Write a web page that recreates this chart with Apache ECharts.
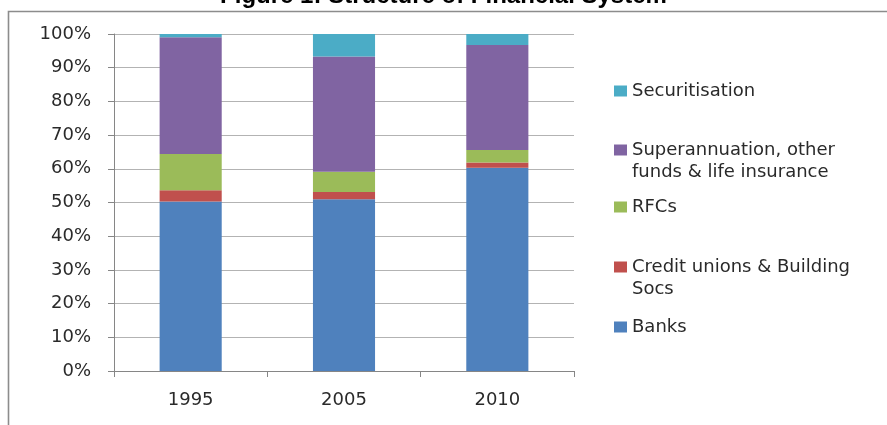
<!DOCTYPE html>
<html>
<head>
<meta charset="utf-8">
<script src="https://cdn.jsdelivr.net/npm/echarts@6/dist/echarts.min.js"></script>
<style>
html,body{margin:0;padding:0;background:#fff;}
#chart{width:887px;height:425px;}
</style>
</head>
<body>
<div id="chart"></div>
<script>
const categories = ['1995', '2005', '2010'];
const banks = [50.3, 51.0, 60.3];
const creditUnions = [3.3, 2.1, 1.6];
const rfcs = [10.8, 6.0, 3.7];
const superannuation = [34.6, 34.2, 31.1];
const securitisation = [1.0, 6.7, 3.3];
const yTicks = [0, 10, 20, 30, 40, 50, 60, 70, 80, 90, 100];

const seriesNames = ['Banks', 'Credit unions & Building Socs', 'RFCs', 'Superannuation, other funds & life insurance', 'Securitisation'];
const seriesData = [banks, creditUnions, rfcs, superannuation, securitisation];
const colors = ['#4F81BD', '#C0504D', '#9BBB59', '#8064A2', '#4BACC6'];
const legendLabels = {
  'Securitisation': 'Securitisation',
  'Superannuation, other funds & life insurance': '\nSuperannuation, other\nfunds & life insurance',
  'RFCs': 'RFCs',
  'Credit unions & Building Socs': '\nCredit unions & Building\nSocs',
  'Banks': 'Banks'
};
const legendTops = {
  'Securitisation': 80,
  'Superannuation, other funds & life insurance': 117,
  'RFCs': 196,
  'Credit unions & Building Socs': 234,
  'Banks': 316
};

const font = 'DejaVu Sans';
const textColor = '#2a2a2a';

const chart = echarts.init(document.getElementById('chart'));
chart.setOption({
  animation: false,
  color: colors,
  title: {
    text: 'Figure 1: Structure of Financial System',
    left: 'center',
    top: -16,
    padding: 0,
    textStyle: { fontFamily: 'Liberation Sans', fontWeight: 'bold', fontSize: 24, color: '#000' }
  },
  graphic: [{
    type: 'rect',
    shape: { x: 8.5, y: 11.5, width: 1000, height: 1000 },
    style: { fill: 'none', stroke: '#8c8c8c', lineWidth: 1.6 },
    silent: true
  }],
  legend: seriesNames.map(function (n) {
    return {
      data: [n],
      left: 614,
      top: legendTops[n],
      padding: 0,
      orient: 'vertical',
      icon: 'rect',
      itemWidth: 13,
      itemHeight: 11,
      selectedMode: false,
      formatter: function (name) { return legendLabels[name]; },
      textStyle: { fontFamily: font, fontSize: 18, lineHeight: 22, color: textColor }
    };
  }),
  grid: { left: 114, right: 313, top: 34, bottom: 54 },
  xAxis: {
    type: 'category',
    data: categories,
    axisLine: { lineStyle: { color: '#868686', width: 1 } },
    axisTick: { show: true, alignWithLabel: false, length: 6, lineStyle: { color: '#868686' } },
    axisLabel: { fontFamily: font, fontSize: 18, color: textColor, margin: 20 }
  },
  yAxis: {
    type: 'value',
    min: yTicks[0],
    max: yTicks[yTicks.length - 1],
    interval: yTicks[1] - yTicks[0],
    axisLine: { show: true, lineStyle: { color: '#868686', width: 1 } },
    axisTick: { show: true, length: 6, lineStyle: { color: '#868686' } },
    splitLine: { lineStyle: { color: '#b3b3b3', width: 1 } },
    axisLabel: { fontFamily: font, fontSize: 18, color: textColor, margin: 23, formatter: '{value}%' }
  },
  series: seriesNames.map(function (n, i) {
    return {
      name: n,
      type: 'bar',
      stack: 'total',
      barWidth: '40.5%',
      data: seriesData[i],
      itemStyle: { color: colors[i] }
    };
  })
});
</script>
</body>
</html>
